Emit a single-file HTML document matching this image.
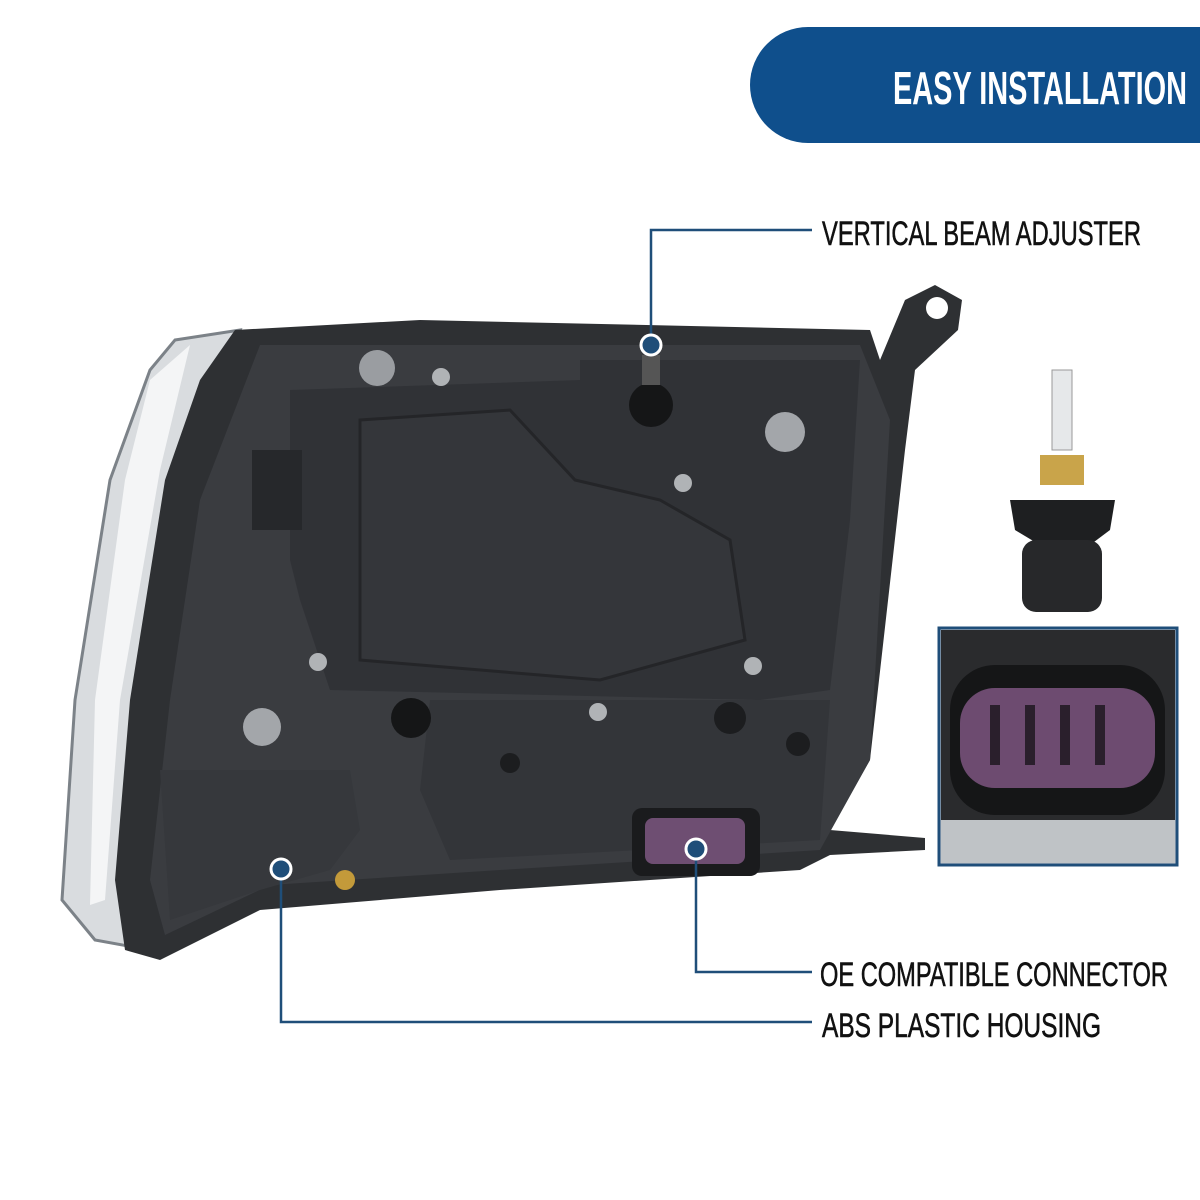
<!DOCTYPE html>
<html><head><meta charset="utf-8"><style>
body{margin:0;background:#fff;}
svg{display:block}
text{font-family:"Liberation Sans",sans-serif;}
</style></head><body>
<svg width="1200" height="1200" viewBox="0 0 1200 1200" xmlns="http://www.w3.org/2000/svg">
<rect width="1200" height="1200" fill="#fff"/>
<!-- header pill -->
<path d="M808 27 H1200 V143 H808 A58 58 0 0 1 808 27 Z" fill="#0f4f8c"/>
<text x="893" y="104" fill="#fff" font-size="46" font-weight="bold" textLength="294" lengthAdjust="spacingAndGlyphs">EASY INSTALLATION</text>

<!-- headlight outer lens (chrome) -->
<path d="M175 340 L240 330 L200 420 L140 700 L120 900 L150 950 L95 940 L62 900 L75 700 L110 480 L150 370 Z" fill="#d9dcdf" stroke="#7c8288" stroke-width="3"/>
<path d="M150 380 L190 345 L160 470 L120 700 L105 900 L90 905 L95 700 L125 480 Z" fill="#f4f5f6"/>
<!-- housing -->
<path d="M235 330 L420 320 L870 330 L880 360 L905 300 L935 285 L962 300 L958 330 L915 370 L905 450 L870 760 L830 830 L925 838 L925 850 L830 855 L800 870 L500 890 L260 910 L160 960 L125 950 L115 880 L130 700 L165 480 L200 380 Z" fill="#2e3033"/>
<path d="M260 345 L860 345 L890 420 L870 760 L820 850 L500 870 L270 885 L165 935 L150 880 L170 700 L200 500 Z" fill="#3a3c40"/>
<circle cx="937" cy="308" r="11" fill="#fff"/>
<!-- inner panel -->
<path d="M290 390 L580 380 L580 360 L860 360 L850 520 L830 690 L760 700 L330 690 L300 600 L290 560 Z" fill="#303236"/>
<path d="M360 420 L510 410 L575 480 L660 500 L730 540 L745 640 L600 680 L360 660 Z" fill="#34363a" stroke="#242528" stroke-width="3"/>
<path d="M430 700 L830 700 L820 840 L640 850 L450 860 L420 790 Z" fill="#333539"/>
<path d="M160 770 L350 770 L360 830 L330 870 L260 890 L170 920 Z" fill="#36383c"/>
<!-- grey caps -->
<circle cx="377" cy="368" r="18" fill="#9a9da1"/>
<circle cx="785" cy="432" r="20" fill="#a3a6aa"/>
<circle cx="262" cy="727" r="19" fill="#a3a6aa"/>
<!-- screws -->
<g fill="#b0b3b6"><circle cx="441" cy="377" r="9"/><circle cx="683" cy="483" r="9"/><circle cx="318" cy="662" r="9"/><circle cx="753" cy="666" r="9"/><circle cx="598" cy="712" r="9"/></g>
<!-- adjuster -->
<circle cx="651" cy="405" r="22" fill="#151617"/>
<rect x="642" y="355" width="18" height="30" fill="#555"/>
<circle cx="411" cy="718" r="20" fill="#151617"/>
<circle cx="730" cy="718" r="16" fill="#1c1d1f"/>
<circle cx="798" cy="744" r="12" fill="#1c1d1f"/>
<circle cx="510" cy="763" r="10" fill="#1c1d1f"/>
<rect x="252" y="450" width="50" height="80" fill="#26282b"/>
<!-- ground screw -->
<circle cx="345" cy="880" r="10" fill="#c39a3a"/>
<!-- connector -->
<rect x="632" y="808" width="128" height="68" rx="10" fill="#1a1b1d"/>
<rect x="645" y="818" width="100" height="46" rx="8" fill="#6e4e72"/>
<!-- bulb -->
<path d="M1052 370 h20 v80 h-20 z" fill="#e6e8ea" stroke="#999"/>
<path d="M1040 455 h44 v30 h-44 z" fill="#c9a44a"/>
<path d="M1010 500 L1115 500 L1110 530 L1090 545 L1040 545 L1015 530 Z" fill="#1e1f21"/>
<rect x="1022" y="540" width="80" height="72" rx="14" fill="#27282a"/>
<!-- inset -->
<rect x="939" y="628" width="238" height="237" fill="#c8cbce" stroke="#1f4e79" stroke-width="3"/>
<rect x="941" y="630" width="234" height="215" fill="#2a2b2d"/>
<rect x="941" y="820" width="234" height="43" fill="#bfc3c6"/>
<rect x="950" y="665" width="215" height="150" rx="45" fill="#151617"/>
<rect x="960" y="688" width="195" height="100" rx="35" fill="#6d4b70"/>
<g fill="#2a1f2c"><rect x="990" y="705" width="10" height="60"/><rect x="1025" y="705" width="10" height="60"/><rect x="1060" y="705" width="10" height="60"/><rect x="1095" y="705" width="10" height="60"/></g>

<!-- callout lines -->
<g stroke="#1f4e79" stroke-width="2.5" fill="none">
<path d="M651 345 V230 H812"/>
<path d="M696 850 V972 H812"/>
<path d="M281 870 V1022 H812"/>
</g>
<g fill="#1f4e79" stroke="#fff" stroke-width="3">
<circle cx="651" cy="345" r="10"/><circle cx="696" cy="849" r="10"/><circle cx="281" cy="869" r="10"/>
</g>
<g font-size="34" fill="#111" stroke="#111" stroke-width="0.6">
<text x="822" y="245" textLength="319" lengthAdjust="spacingAndGlyphs">VERTICAL BEAM ADJUSTER</text>
<text x="820" y="986" textLength="348" lengthAdjust="spacingAndGlyphs">OE COMPATIBLE CONNECTOR</text>
<text x="822" y="1037" textLength="279" lengthAdjust="spacingAndGlyphs">ABS PLASTIC HOUSING</text>
</g>
</svg>
</body></html>
